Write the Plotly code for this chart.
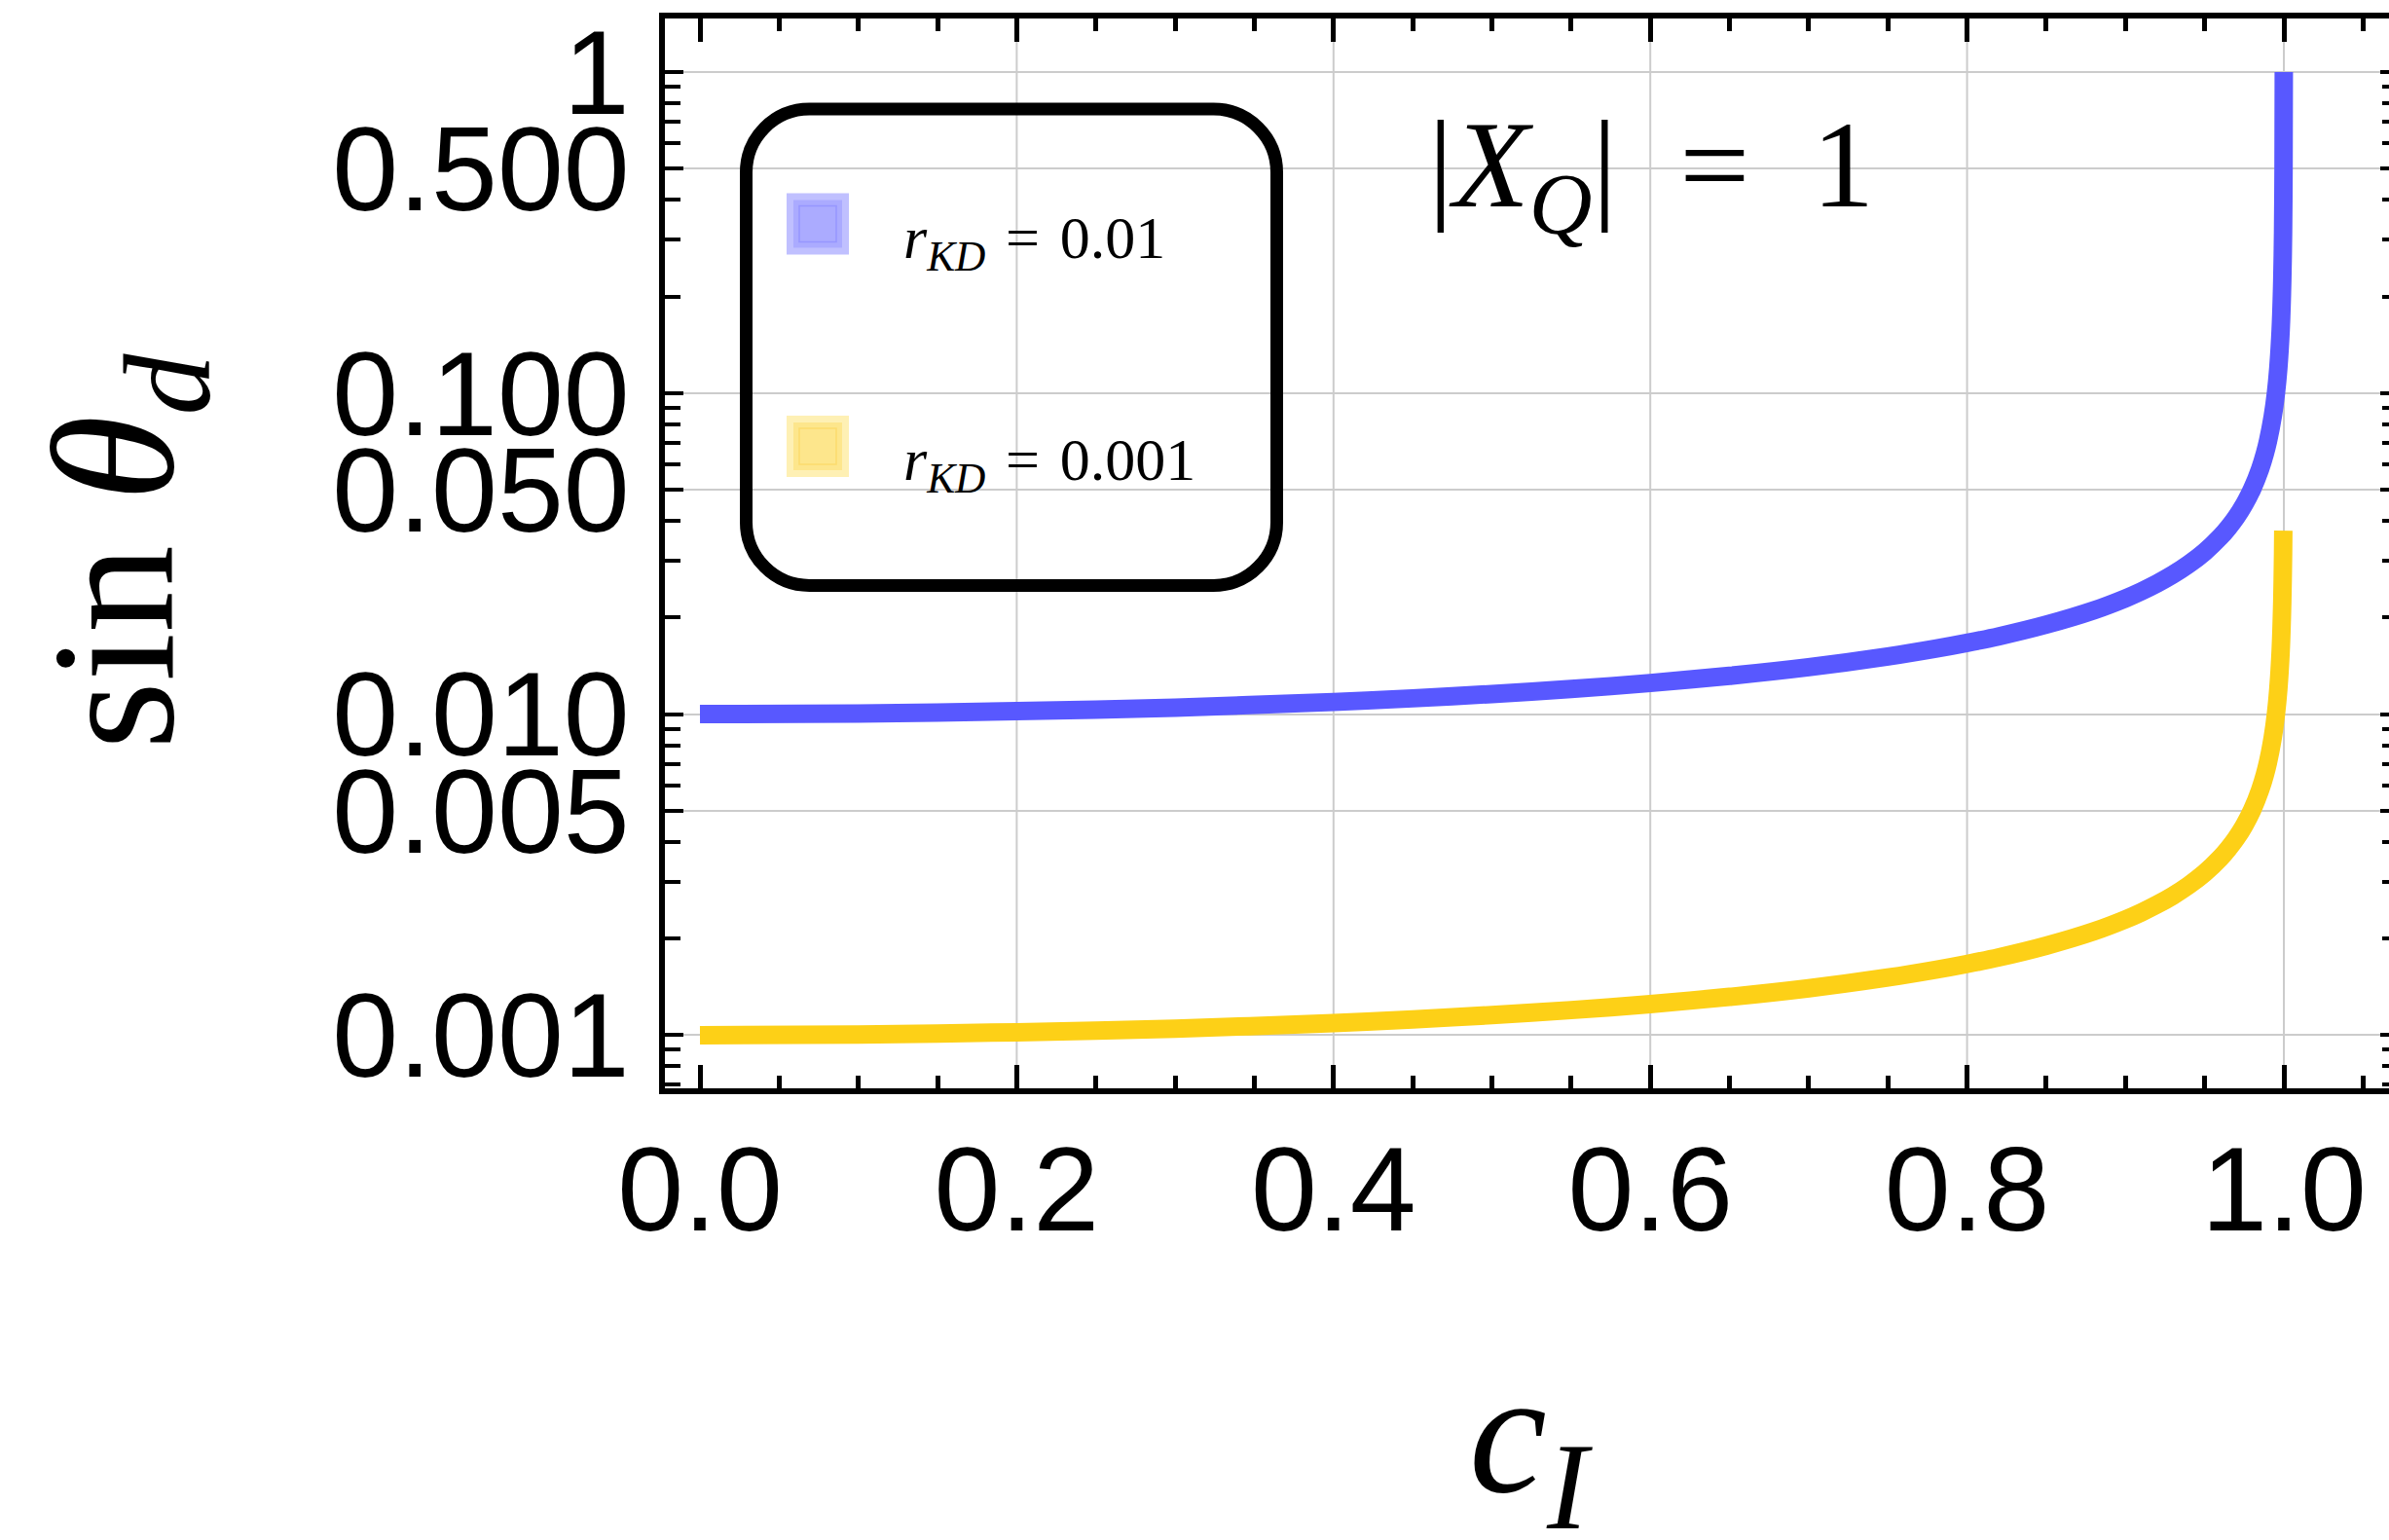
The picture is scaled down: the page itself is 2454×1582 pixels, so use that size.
import plotly.graph_objects as go

# ---------------- data ----------------
c_blue = [0.0, 0.1, 0.2, 0.3, 0.4, 0.45, 0.5, 0.55, 0.6, 0.65, 0.7, 0.75, 0.78, 0.8, 0.82,
          0.85, 0.88, 0.9, 0.91, 0.92, 0.93, 0.94, 0.95, 0.96, 0.965, 0.97, 0.975, 0.98,
          0.985, 0.988, 0.99, 0.993, 0.995, 0.9965, 0.998, 0.999, 0.9995, 0.9998, 0.99995]
s_blue = [0.0100, 0.01005, 0.01021, 0.01048, 0.01091, 0.0112, 0.01155, 0.01197, 0.0125,
          0.01316, 0.0140, 0.01512, 0.01598, 0.01667, 0.01747, 0.0190, 0.02105, 0.02294,
          0.02412, 0.02552, 0.02721, 0.02931, 0.0320, 0.0357, 0.03813, 0.0411, 0.0450,
          0.0503, 0.0580, 0.06475, 0.0709, 0.0847, 0.100, 0.1196, 0.158, 0.224, 0.316,
          0.50, 1.0]

c_yellow = [0.0, 0.1, 0.2, 0.3, 0.4, 0.45, 0.5, 0.55, 0.6, 0.65, 0.7, 0.75, 0.78, 0.8, 0.82,
            0.85, 0.88, 0.9, 0.91, 0.92, 0.93, 0.94, 0.95, 0.96, 0.965, 0.97, 0.975, 0.98,
            0.985, 0.988, 0.99, 0.993, 0.995, 0.9965, 0.998, 0.999, 0.9995, 0.99964]
s_yellow = [0.00100, 0.001005, 0.001021, 0.001048, 0.001091, 0.00112, 0.001155, 0.001197,
            0.00125, 0.001316, 0.00140, 0.001512, 0.001598, 0.001667, 0.001747, 0.00190,
            0.002105, 0.002294, 0.002412, 0.002552, 0.002721, 0.002931, 0.00320, 0.00357,
            0.003813, 0.00411, 0.00450, 0.00503, 0.00580, 0.006475, 0.00709, 0.00847,
            0.0100, 0.01196, 0.0158, 0.0224, 0.0316, 0.0373]

series_names = ["r_KD = 0.01", "r_KD = 0.001"]
x_grid = [0.2, 0.4, 0.6, 0.8, 1.0]
y_major = [0.001, 0.005, 0.01, 0.05, 0.1, 0.5, 1]
y_major_text = ["0.001", "0.005", "0.010", "0.050", "0.100", "0.500", "1"]
y_minor = [k * 10.0 ** e for e in range(-4, 1) for k in (2, 3, 4, 6, 7, 8, 9)]

# ---------------- geometry ----------------
W, H = 2454, 1582
L, R, T, B = 683, 0, 19, 464
PX0, PXW = 719.0, 1627.0     # pixel of c=0, pixels per unit
PY1, PYD = 74.0, 329.8       # pixel of value 1, pixels per decade


def xval(px):
    return (px - PX0) / PXW


def ylog(py):
    return -(py - PY1) / PYD


def xp(px):
    return (px - L) / (W - L - R)


def yp(py):
    return (H - B - py) / (H - B - T)


BLUE = "rgb(88,88,255)"
YELLOW = "rgb(253,208,23)"

fig = go.Figure()
fig.add_trace(go.Scatter(x=c_blue, y=s_blue, mode="lines", name=series_names[0],
                         line=dict(color=BLUE, width=19, shape="spline", smoothing=0.8),
                         showlegend=False))
fig.add_trace(go.Scatter(x=c_yellow, y=s_yellow, mode="lines", name=series_names[1],
                         line=dict(color=YELLOW, width=19, shape="spline", smoothing=0.8),
                         showlegend=False))
# invisible helper trace so the right-hand tick axis is drawn
fig.add_trace(go.Scatter(x=c_blue[:1], y=s_blue[:1], yaxis="y2", mode="markers",
                         marker=dict(opacity=0), hoverinfo="skip", showlegend=False))

xr = [xval(L), xval(W - R)]
yr = [ylog(H - B), ylog(T)]

tickfont = dict(family="Liberation Sans, Arial", size=122, color="black")

fig.update_layout(
    width=W, height=H,
    margin=dict(l=L, r=R, t=T, b=B, pad=0),
    paper_bgcolor="white", plot_bgcolor="white",
    xaxis=dict(range=xr, showgrid=False, zeroline=False,
               tick0=0, dtick=0.2, tickformat=".1f",
               ticks="inside", ticklen=24, tickwidth=5, tickcolor="black",
               showline=True, linewidth=6, linecolor="black", mirror="ticks",
               minor=dict(tick0=0, dtick=0.05, ticks="inside", ticklen=13,
                          tickwidth=5, tickcolor="black", showgrid=False),
               tickfont=tickfont, ticklabelstandoff=-6),
    yaxis=dict(type="log", range=yr, tickmode="array", tickvals=y_major,
               ticktext=y_major_text, showgrid=True, gridcolor="rgb(204,204,204)",
               gridwidth=2, zeroline=False,
               ticks="inside", ticklen=19, tickwidth=4, tickcolor="black",
               showline=True, linewidth=6, linecolor="black", mirror=False,
               minor=dict(tickmode="array", tickvals=y_minor, ticks="inside",
                          ticklen=16, tickwidth=4, tickcolor="black", showgrid=False),
               tickfont=tickfont, ticklabelstandoff=6),
    yaxis2=dict(type="log", range=yr, overlaying="y", side="right",
                tickmode="array", tickvals=y_major, showticklabels=False,
                showgrid=False, zeroline=False, showline=False,
                ticks="inside", ticklen=9, tickwidth=4, tickcolor="black",
                minor=dict(tickmode="array", tickvals=y_minor, ticks="inside",
                           ticklen=7, tickwidth=4, tickcolor="black", showgrid=False)),
)

shapes = []
for gx in x_grid:
    shapes.append(dict(type="line", xref="x", yref="paper", x0=gx, x1=gx, y0=0, y1=1,
                       line=dict(color="rgb(204,204,204)", width=2), layer="below"))

# rounded legend frame
hw, hh, rr = 272.5, 244.75, 65.0
k = 0.5523 * rr
path = (f"M {-hw + rr},{-hh} L {hw - rr},{-hh} "
        f"C {hw - rr + k},{-hh} {hw},{-hh + rr - k} {hw},{-hh + rr} "
        f"L {hw},{hh - rr} C {hw},{hh - rr + k} {hw - rr + k},{hh} {hw - rr},{hh} "
        f"L {-hw + rr},{hh} C {-hw + rr - k},{hh} {-hw},{hh - rr + k} {-hw},{hh - rr} "
        f"L {-hw},{-hh + rr} C {-hw},{-hh + rr - k} {-hw + rr - k},{-hh} {-hw + rr},{-hh} Z")
shapes.append(dict(type="path", path=path, xref="paper", yref="paper",
                   xsizemode="pixel", ysizemode="pixel",
                   xanchor=xp(1039), yanchor=yp(356.75),
                   line=dict(color="black", width=13), fillcolor="rgba(0,0,0,0)",
                   layer="above"))


def rect(px0, py0, px1, py1, fill, line_color=None, lw=0):
    d = dict(type="rect", xref="paper", yref="paper",
             x0=xp(px0), x1=xp(px1), y0=yp(py1), y1=yp(py0),
             fillcolor=fill, layer="above")
    d["line"] = dict(color=line_color or fill, width=lw)
    return d


swatches = [
    (808, 198.6, "rgb(192,192,255)", "rgb(171,171,255)", "rgb(150,150,255)"),
    (808, 427.0, "rgb(254,240,180)", "rgb(253,230,140)", "rgb(252,220,110)"),
]
for sx, sy, c_out, c_mid, c_in in swatches:
    shapes.append(rect(sx, sy, sx + 64, sy + 63, c_out))
    shapes.append(rect(sx + 7, sy + 7, sx + 57, sy + 56, c_mid))
    shapes.append(rect(sx + 13, sy + 13, sx + 51, sy + 50, "rgba(0,0,0,0)", c_in, 1.5))

fig.update_layout(shapes=shapes)

serif = "Liberation Serif, Times New Roman, serif"
sp = "\u2004"
ann = []
ann.append(dict(text=f"<i>r</i><sub><i>KD</i></sub>{sp}={sp}0.01", x=xp(926), y=yp(248),
                xref="paper", yref="paper", xanchor="left", yanchor="middle",
                showarrow=False, font=dict(family=serif, size=62, color="black")))
ann.append(dict(text=f"<i>r</i><sub><i>KD</i></sub>{sp}={sp}0.001", x=xp(926), y=yp(476),
                xref="paper", yref="paper", xanchor="left", yanchor="middle",
                showarrow=False, font=dict(family=serif, size=62, color="black")))
ann.append(dict(text=f"|<i>X</i><sub><i>Q</i></sub>|\u2002=\u20021", x=xp(1696), y=yp(178),
                xref="paper", yref="paper", xanchor="center", yanchor="middle",
                showarrow=False, font=dict(family=serif, size=128, color="black")))
ann.append(dict(text="<i>c</i><sub><i>I</i></sub>", x=xp(1572), y=yp(1484),
                xref="paper", yref="paper", xanchor="center", yanchor="middle",
                showarrow=False, font=dict(family=serif, size=180, color="black")))
ann.append(dict(text="sin <i>θ</i><sub><i>d</i></sub>", x=xp(129), y=yp(567),
                xref="paper", yref="paper", xanchor="center", yanchor="middle",
                textangle=-90, showarrow=False,
                font=dict(family=serif, size=180, color="black")))
fig.update_layout(annotations=ann)

fig.write_html("out.html")
